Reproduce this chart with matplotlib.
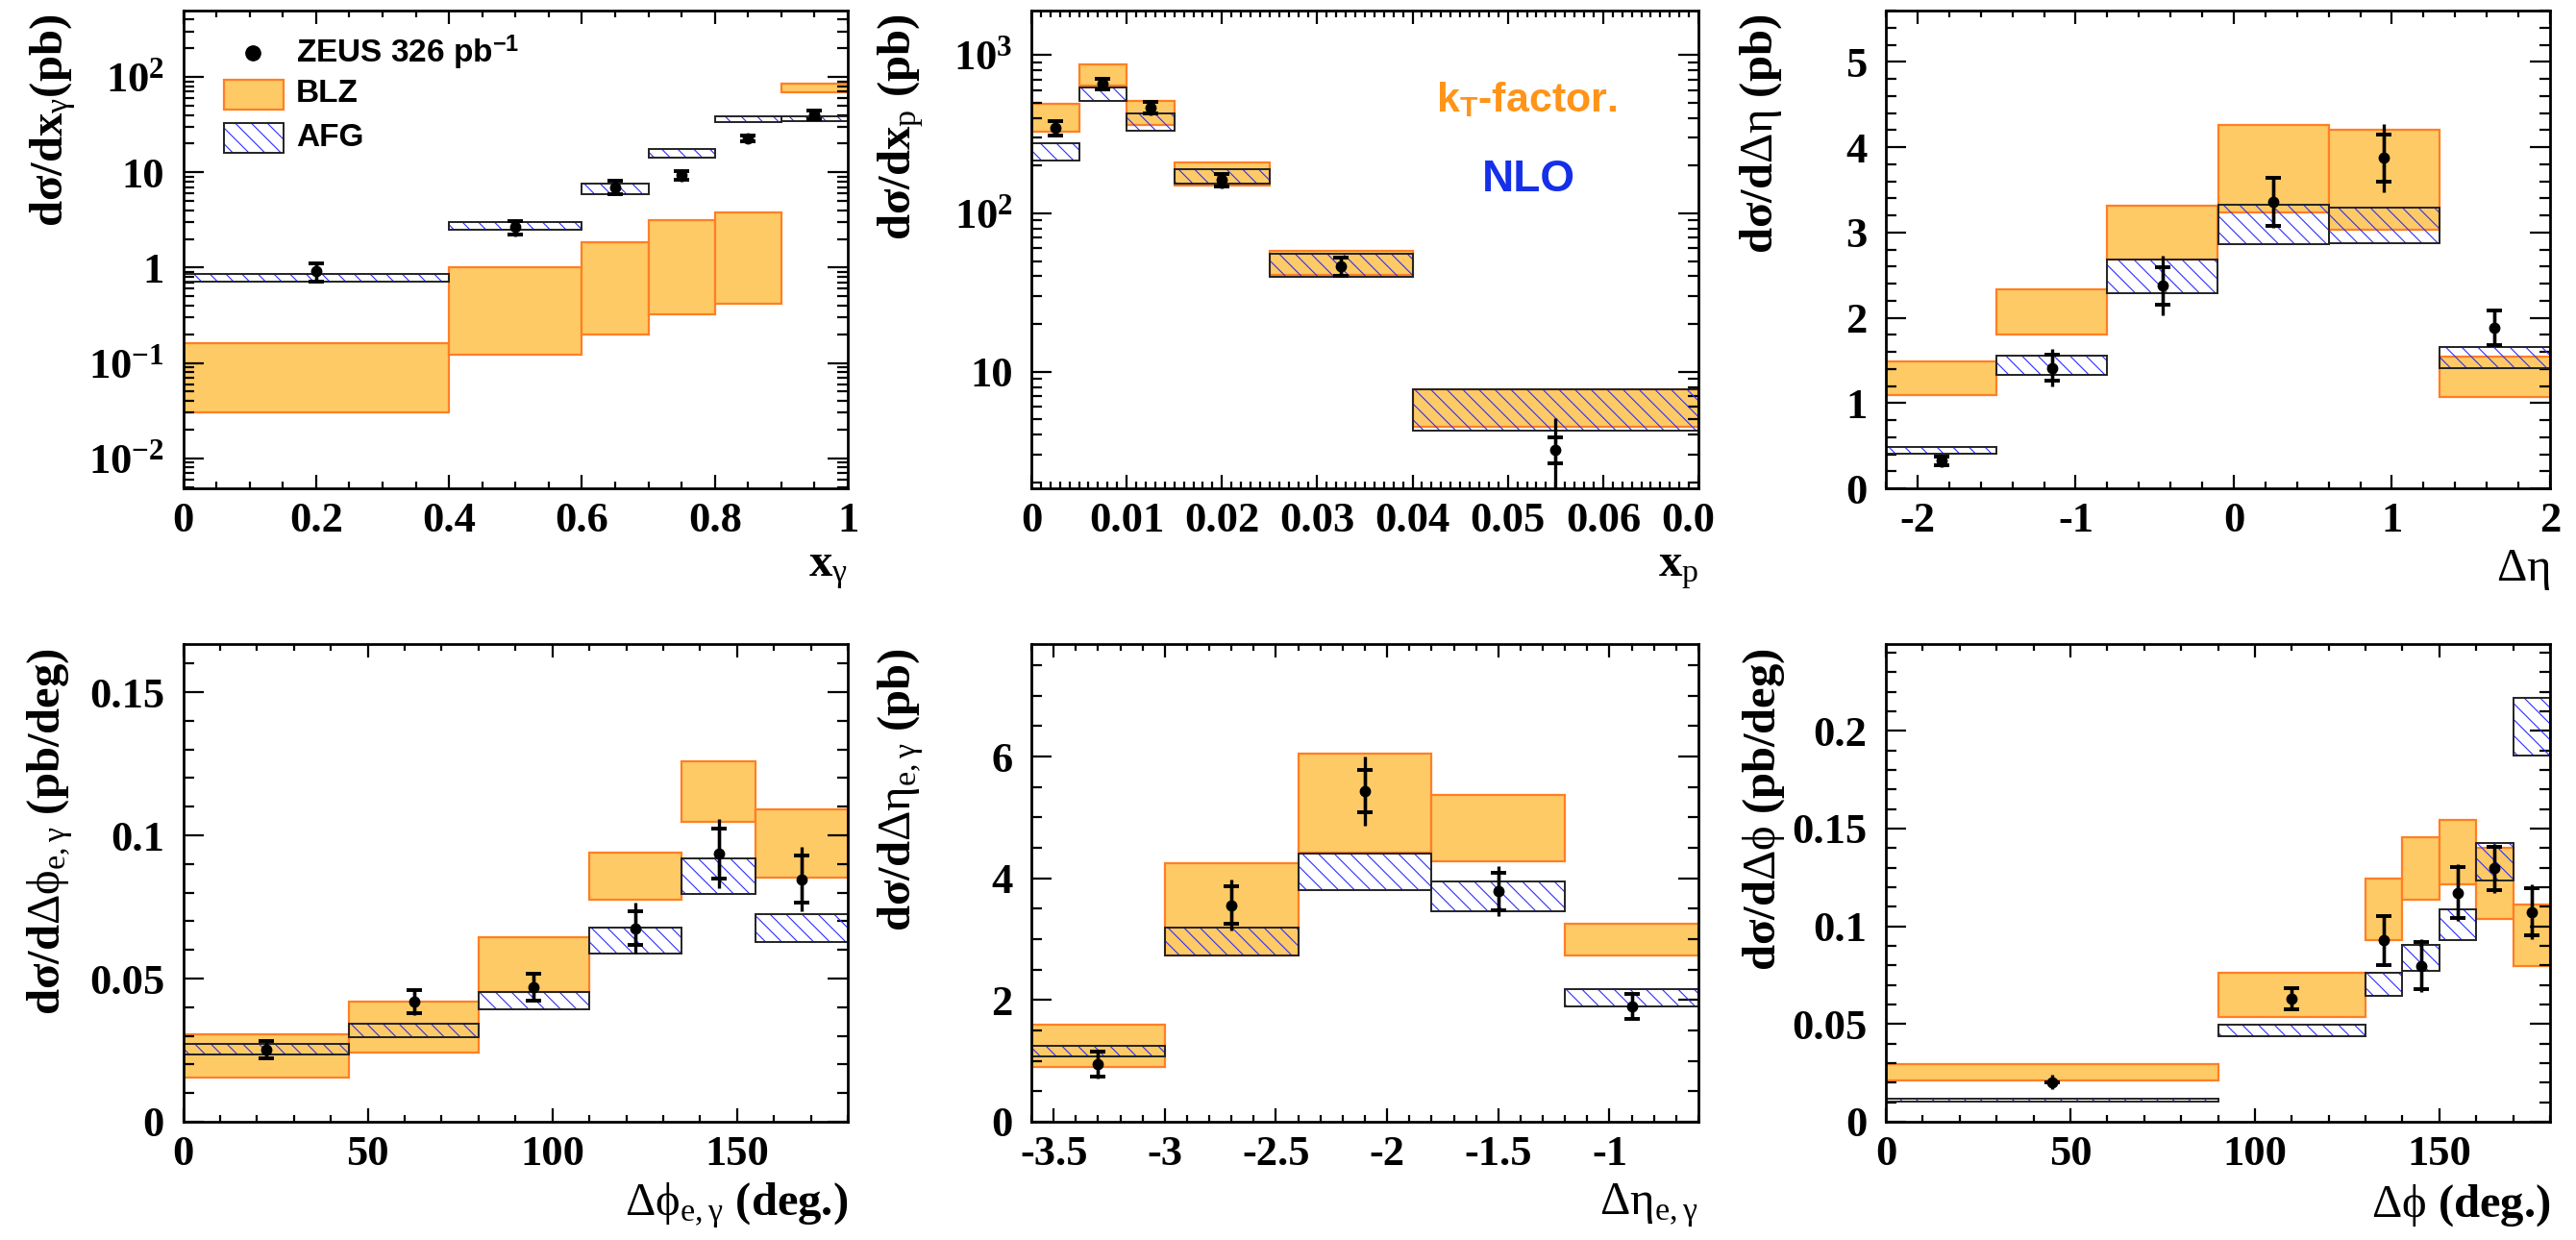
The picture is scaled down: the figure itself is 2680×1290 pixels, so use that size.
import numpy as np
import matplotlib
matplotlib.use('Agg')
import matplotlib.pyplot as plt
from matplotlib.ticker import FixedLocator, FixedFormatter, MultipleLocator, LogLocator, NullFormatter
from matplotlib.patches import Rectangle
from matplotlib.transforms import Bbox, TransformedBbox

# ---------------- data ----------------
# Panel 1: d sigma / d x_gamma (log)
xg_edges = [0.0, 0.4, 0.6, 0.7, 0.8, 0.9, 1.0]
xg_blz_lo = [0.0306, 0.123, 0.197, 0.327, 0.419, 68.9]
xg_blz_hi = [0.161, 1.0, 1.84, 3.17, 3.75, 84.5]
xg_afg_lo = [0.714, 2.49, 5.85, 14.3, 33.6, 34.8]
xg_afg_hi = [0.853, 3.0, 7.7, 17.7, 39.0, 39.0]
xg_x = [0.2, 0.5, 0.65, 0.75, 0.85, 0.95]
xg_y = [0.92, 2.65, 7.0, 9.3, 22.7, 40.5]
xg_stat = [0.2, 0.45, 1.1, 1.0, 1.5, 4.0]
xg_tot = [0.23, 0.55, 1.3, 1.3, 2.5, 5.0]

# Panel 2: d sigma / d x_p (log)
xp_edges = [0.0, 0.005, 0.01, 0.015, 0.025, 0.04, 0.07]
xp_blz_lo = [326, 638, 363, 150, 41.1, 4.51]
xp_blz_hi = [487, 866, 513, 210, 58.2, 7.78]
xp_afg_lo = [216, 510, 333, 153, 39.8, 4.26]
xp_afg_hi = [278, 625, 428, 190, 55.5, 7.78]
xp_x = [0.0025, 0.0075, 0.0125, 0.02, 0.0325, 0.055]
xp_y = [344, 653, 466, 163, 46.5, 3.23]
xp_stat = [35, 50, 40, 15, 6, 0.6]
xp_tot = [40, 60, 50, 20, 7, 1.85]

# Panel 3: d sigma / d Delta eta
deta_edges = [-2.2, -1.5, -0.8, -0.1, 0.6, 1.3, 2.0]
deta_blz_lo = [1.097, 1.802, 2.68, 3.239, 3.028, 1.075]
deta_blz_hi = [1.484, 2.331, 3.312, 4.254, 4.206, 1.548]
deta_afg_lo = [0.409, 1.325, 2.292, 2.865, 2.877, 1.406]
deta_afg_hi = [0.486, 1.557, 2.68, 3.329, 3.286, 1.66]
deta_x = [-1.85, -1.15, -0.45, 0.25, 0.95, 1.65]
deta_y = [0.323, 1.411, 2.374, 3.355, 3.871, 1.884]
deta_stat = [0.05, 0.15, 0.22, 0.28, 0.28, 0.2]
deta_tot = [0.07, 0.22, 0.35, 0.30, 0.40, 0.22]

# Panel 4: d sigma / d Delta phi_{e,gamma}
dphieg_edges = [0, 45, 80, 110, 135, 155, 180]
dphieg_blz_lo = [0.01556, 0.0243, 0.0454, 0.0774, 0.1047, 0.0853]
dphieg_blz_hi = [0.0304, 0.04194, 0.0644, 0.094, 0.1257, 0.109]
dphieg_afg_lo = [0.0236, 0.0294, 0.0394, 0.0586, 0.0794, 0.0628]
dphieg_afg_hi = [0.0271, 0.0343, 0.0454, 0.0679, 0.0921, 0.0725]
dphieg_x = [22.5, 62.5, 95, 122.5, 145, 167.5]
dphieg_y = [0.0253, 0.0419, 0.0471, 0.0676, 0.0936, 0.0847]
dphieg_stat = [0.003, 0.004, 0.0047, 0.0058, 0.0088, 0.0081]
dphieg_tot = [0.0035, 0.0045, 0.0052, 0.0088, 0.012, 0.0113]

# Panel 5: d sigma / d Delta eta_{e,gamma}
detaeg_edges = [-3.6, -3.0, -2.4, -1.8, -1.2, -0.6]
detaeg_blz_lo = [0.908, 2.739, 4.418, 4.275, 2.732]
detaeg_blz_hi = [1.595, 4.242, 6.046, 5.373, 3.255]
detaeg_afg_lo = [1.078, 2.739, 3.804, 3.464, 1.889]
detaeg_afg_hi = [1.255, 3.196, 4.405, 3.941, 2.183]
detaeg_x = [-3.3, -2.7, -2.1, -1.5, -0.9]
detaeg_y = [0.948, 3.556, 5.438, 3.784, 1.895]
detaeg_stat = [0.21, 0.31, 0.35, 0.31, 0.21]
detaeg_tot = [0.24, 0.42, 0.57, 0.41, 0.22]

# Panel 6: d sigma / d Delta phi
dphi_edges = [0, 90, 130, 140, 150, 160, 170, 180]
dphi_blz_lo = [0.0212, 0.0538, 0.0931, 0.1134, 0.1216, 0.1037, 0.0798]
dphi_blz_hi = [0.0293, 0.0764, 0.1242, 0.1456, 0.1542, 0.1403, 0.111]
dphi_afg_lo = [0.0102, 0.0436, 0.0646, 0.0774, 0.0931, 0.1236, 0.1874]
dphi_afg_hi = [0.012, 0.0497, 0.0764, 0.0904, 0.1088, 0.1424, 0.2169]
dphi_x = [45, 110, 135, 145, 155, 165, 175]
dphi_y = [0.0204, 0.0629, 0.0927, 0.0798, 0.1171, 0.1297, 0.1073]
dphi_stat = [0.0, 0.0053, 0.0125, 0.012, 0.013, 0.011, 0.012]
dphi_tot = [0.0035, 0.0056, 0.013, 0.0135, 0.0145, 0.0125, 0.014]

# tick labels
xg_xticks = [0, 0.2, 0.4, 0.6, 0.8, 1.0]
xg_xticklabels = ['0', '0.2', '0.4', '0.6', '0.8', '1']
xg_yticks = [0.01, 0.1, 1, 10, 100]
xg_yticklabels = [r'$\mathbf{10^{-2}}$', r'$\mathbf{10^{-1}}$', '1', '10', r'$\mathbf{10^{2}}$']
xp_xticks = [0, 0.01, 0.02, 0.03, 0.04, 0.05, 0.06, 0.07]
xp_xticklabels = ['0', '0.01', '0.02', '0.03', '0.04', '0.05', '0.06', '0.07']
xp_yticks = [10, 100, 1000]
xp_yticklabels = ['10', r'$\mathbf{10^{2}}$', r'$\mathbf{10^{3}}$']
deta_xticks = [-2, -1, 0, 1, 2]
deta_xticklabels = ['-2', '-1', '0', '1', '2']
deta_yticks = [0, 1, 2, 3, 4, 5]
deta_yticklabels = ['0', '1', '2', '3', '4', '5']
dphieg_xticks = [0, 50, 100, 150]
dphieg_xticklabels = ['0', '50', '100', '150']
dphieg_yticks = [0, 0.05, 0.1, 0.15]
dphieg_yticklabels = ['0', '0.05', '0.1', '0.15']
detaeg_xticks = [-3.5, -3, -2.5, -2, -1.5, -1]
detaeg_xticklabels = ['-3.5', '-3', '-2.5', '-2', '-1.5', '-1']
detaeg_yticks = [0, 2, 4, 6]
detaeg_yticklabels = ['0', '2', '4', '6']
dphi_xticks = [0, 50, 100, 150]
dphi_xticklabels = ['0', '50', '100', '150']
dphi_yticks = [0, 0.05, 0.1, 0.15, 0.2]
dphi_yticklabels = ['0', '0.05', '0.1', '0.15', '0.2']

# ---------------- style ----------------
plt.rcParams['mathtext.fontset'] = 'custom'
plt.rcParams['mathtext.rm'] = 'Liberation Serif'
plt.rcParams['mathtext.it'] = 'Liberation Serif:bold'
plt.rcParams['mathtext.bf'] = 'Liberation Serif:bold'
plt.rcParams['mathtext.sf'] = 'Liberation Sans:bold'
plt.rcParams['hatch.linewidth'] = 0.8

ORANGE_FILL = '#FDCA66'
ORANGE_EDGE = '#FF7F24'
BLUE = '#2E2EFF'
SERIF = 'Liberation Serif'
SANS = 'Liberation Sans'
TICKFS = 32
LABFS = 35

W, H = 2680, 1290
fig = plt.figure(figsize=(W / 100, H / 100), dpi=100)

cols = [(190.5, 882), (1073, 1767), (1962, 2653)]
rows = [(11, 508), (670, 1167)]


def make_ax(r, c):
    x0, x1 = cols[c]
    y0, y1 = rows[r]
    return fig.add_axes([x0 / W, 1 - y1 / H, (x1 - x0) / W, (y1 - y0) / H])


def draw(ax, edges, blo, bhi, alo, ahi, x, y, stat, tot):
    edges = np.asarray(edges, float)
    lefts = edges[:-1]
    widths = np.diff(edges)
    blo = np.asarray(blo); bhi = np.asarray(bhi)
    alo = np.asarray(alo); ahi = np.asarray(ahi)
    ax.bar(lefts, bhi - blo, width=widths, bottom=blo, align='edge',
           color=ORANGE_FILL, edgecolor=ORANGE_EDGE, linewidth=1.6, zorder=1)
    ax.bar(lefts, ahi - alo, width=widths, bottom=alo, align='edge',
           fill=False, hatch='\\\\', edgecolor=BLUE, linewidth=0, zorder=2)
    ax.bar(lefts, ahi - alo, width=widths, bottom=alo, align='edge',
           fill=False, edgecolor='#222222', linewidth=1.4, zorder=2)
    ax.errorbar(x, y, yerr=tot, fmt='none', ecolor='k', elinewidth=2.4, zorder=4)
    ax.errorbar(x, y, yerr=stat, fmt='o', ms=7.5, color='k', ecolor='k',
                elinewidth=2.4, capsize=6, capthick=2.8, zorder=5)


def style(ax, xlim, ylim, xticks, xlabels, yticks, ylabels, xminor, yminor, logy=False):
    ax.set_xlim(*xlim)
    if logy:
        ax.set_yscale('log')
    ax.set_ylim(*ylim)
    ax.xaxis.set_major_locator(FixedLocator(xticks))
    ax.xaxis.set_major_formatter(FixedFormatter(xlabels))
    ax.xaxis.set_minor_locator(MultipleLocator(xminor))
    ax.yaxis.set_major_locator(FixedLocator(yticks))
    ax.yaxis.set_major_formatter(FixedFormatter(ylabels))
    if logy:
        ax.yaxis.set_minor_locator(LogLocator(base=10, subs=np.arange(2, 10), numticks=20))
        ax.yaxis.set_minor_formatter(NullFormatter())
    else:
        ax.yaxis.set_minor_locator(MultipleLocator(yminor))
    ax.tick_params(axis='both', which='both', direction='in', top=True, right=True, width=1.6)
    ax.tick_params(axis='x', which='major', length=10, pad=10)
    ax.tick_params(axis='x', which='minor', length=5)
    ax.tick_params(axis='y', which='major', length=15, pad=14)
    ax.tick_params(axis='y', which='minor', length=8)
    for lab in ax.get_xticklabels() + ax.get_yticklabels():
        lab.set_fontfamily(SERIF)
        lab.set_fontweight('bold')
        lab.set_fontsize(TICKFS)
    for sp in ax.spines.values():
        sp.set_linewidth(2.0)


def labels(ax, xlab, ylab, xly, ylx):
    ax.set_xlabel(xlab, fontsize=LABFS, fontfamily=SERIF, fontweight='bold', loc='right')
    ax.xaxis.set_label_coords(1.0, xly)
    ax.xaxis.label.set_verticalalignment('center')
    ax.set_ylabel(ylab, fontsize=LABFS, fontfamily=SERIF, fontweight='bold', loc='top')
    ax.yaxis.set_label_coords(ylx, 0.992)
    ax.yaxis.label.set_verticalalignment('center')


# Panel 1
ax1 = make_ax(0, 0)
draw(ax1, xg_edges, xg_blz_lo, xg_blz_hi, xg_afg_lo, xg_afg_hi, xg_x, xg_y, xg_stat, xg_tot)
style(ax1, (0, 1), (0.00483, 498), xg_xticks, xg_xticklabels, xg_yticks, xg_yticklabels,
      0.05, None, logy=True)
labels(ax1, r'x$_{\mathrm{\gamma}}$', r'd$\sigma$/dx$_{\mathrm{\gamma}}$(pb)', -0.171, -0.196)
# legend
ax1.plot([0.1044], [0.9115], 'o', color='k', ms=11, transform=ax1.transAxes, zorder=6)
ax1.add_patch(Rectangle((0.061, 0.793), 0.09, 0.062, transform=ax1.transAxes,
                        facecolor=ORANGE_FILL, edgecolor=ORANGE_EDGE, linewidth=1.6, zorder=6))
ax1.add_patch(Rectangle((0.061, 0.702), 0.09, 0.063, transform=ax1.transAxes,
                        fill=False, hatch='\\\\', edgecolor=BLUE, linewidth=0, zorder=6))
ax1.add_patch(Rectangle((0.061, 0.702), 0.09, 0.063, transform=ax1.transAxes,
                        fill=False, edgecolor='#222222', linewidth=1.4, zorder=6))
for ty, tx in [(0.9115, r'ZEUS 326 pb$^{\mathsf{-1}}$'), (0.825, 'BLZ'), (0.734, 'AFG')]:
    ax1.text(0.170, ty, tx, transform=ax1.transAxes, fontsize=24, fontfamily=SANS,
             fontweight='bold', va='center', ha='left', zorder=6)

# Panel 2
ax2 = make_ax(0, 1)
draw(ax2, xp_edges, xp_blz_lo, xp_blz_hi, xp_afg_lo, xp_afg_hi, xp_x, xp_y, xp_stat, xp_tot)
style(ax2, (0, 0.07), (1.84, 1900), xp_xticks, xp_xticklabels, xp_yticks, xp_yticklabels,
      0.001, None, logy=True)
labels(ax2, r'x$_{\mathrm{p}}$', r'd$\sigma$/dx$_{\mathrm{p}}$ (pb)', -0.171, -0.196)
ax2.text(0.743, 0.811, r'k$_{\mathsf{T}}$-factor.', transform=ax2.transAxes, color='#FF9419',
         fontsize=31, fontfamily=SANS, fontweight='bold', ha='center', va='center')
ax2.text(0.745, 0.645, 'NLO', transform=ax2.transAxes, color='#1530E8',
         fontsize=33, fontfamily=SANS, fontweight='bold', ha='center', va='center')
clipbox = TransformedBbox(Bbox([[0, 0], [1785 / W, 1]]), fig.transFigure)
for t in ax2.xaxis.get_major_ticks():
    t.label1.set_clip_box(clipbox)
    t.label1.set_clip_on(True)

# Panel 3
ax3 = make_ax(0, 2)
draw(ax3, deta_edges, deta_blz_lo, deta_blz_hi, deta_afg_lo, deta_afg_hi, deta_x, deta_y, deta_stat, deta_tot)
style(ax3, (-2.2, 2.0), (0, 5.6), deta_xticks, deta_xticklabels, deta_yticks, deta_yticklabels, 0.2, 0.2)
labels(ax3, r'$\mathrm{\Delta\eta}$', r'd$\sigma$/d$\mathrm{\Delta\eta}$ (pb)', -0.171, -0.188)

# Panel 4
ax4 = make_ax(1, 0)
draw(ax4, dphieg_edges, dphieg_blz_lo, dphieg_blz_hi, dphieg_afg_lo, dphieg_afg_hi,
     dphieg_x, dphieg_y, dphieg_stat, dphieg_tot)
style(ax4, (0, 180), (0, 0.1668), dphieg_xticks, dphieg_xticklabels, dphieg_yticks, dphieg_yticklabels, 10, 0.01)
labels(ax4, r'$\mathrm{\Delta\phi_{e,\gamma}}$ (deg.)', r'd$\sigma$/d$\mathrm{\Delta\phi}_{\mathrm{e,\gamma}}$ (pb/deg)',
       -0.175, -0.200)

# Panel 5
ax5 = make_ax(1, 1)
draw(ax5, detaeg_edges, detaeg_blz_lo, detaeg_blz_hi, detaeg_afg_lo, detaeg_afg_hi,
     detaeg_x, detaeg_y, detaeg_stat, detaeg_tot)
style(ax5, (-3.6, -0.6), (0, 7.85), detaeg_xticks, detaeg_xticklabels, detaeg_yticks, detaeg_yticklabels, 0.1, 0.5)
labels(ax5, r'$\mathrm{\Delta\eta_{e,\gamma}}$', r'd$\sigma$/d$\mathrm{\Delta\eta}_{\mathrm{e,\gamma}}$ (pb)',
       -0.175, -0.196)

# Panel 6
ax6 = make_ax(1, 2)
draw(ax6, dphi_edges, dphi_blz_lo, dphi_blz_hi, dphi_afg_lo, dphi_afg_hi, dphi_x, dphi_y, dphi_stat, dphi_tot)
style(ax6, (0, 180), (0, 0.2444), dphi_xticks, dphi_xticklabels, dphi_yticks, dphi_yticklabels, 10, 0.01)
labels(ax6, r'$\mathrm{\Delta\phi}$ (deg.)', r'd$\sigma$/d$\mathrm{\Delta\phi}$ (pb/deg)', -0.175, -0.184)

fig.savefig('out.png', dpi=100)
